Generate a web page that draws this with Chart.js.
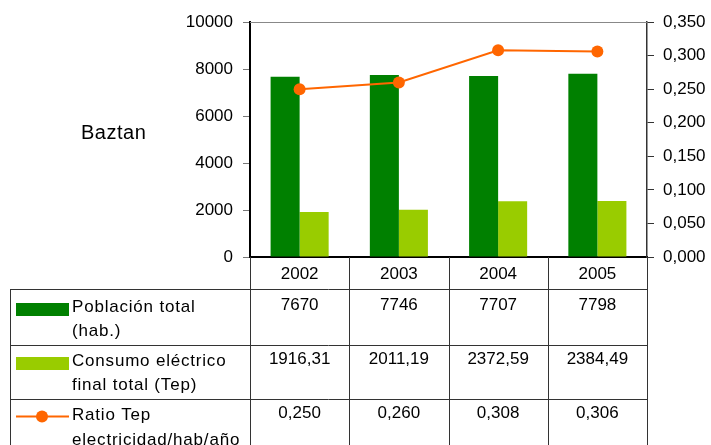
<!DOCTYPE html>
<html>
  <head>
    <meta charset="utf-8">
    <title>Baztan</title>
    <script src="https://cdn.jsdelivr.net/npm/chart.js@4"></script>
    <style>
      body { margin: 0; background: #fff; }
    </style>
    <script>
    // datos
    const years = ['2002', '2003', '2004', '2005'];
    const poblacion = [7670, 7746, 7707, 7798];
    const consumo = [1916.31, 2011.19, 2372.59, 2384.49];
    const ratio = [0.250, 0.260, 0.308, 0.306];
    const leftTicks = [0, 2000, 4000, 6000, 8000, 10000];
    const rightTicks = [0, 0.05, 0.1, 0.15, 0.2, 0.25, 0.3, 0.35];
    const rowLabels = [
      ['Población total', '(hab.)'],
      ['Consumo eléctrico', 'final total (Tep)'],
      ['Ratio Tep', 'electricidad/hab/año']
    ];
    const title = 'Baztan';

    const DARK = '#008000';
    const LIGHT = '#99CC00';
    const ORANGE = '#FF6600';
    const FONT = "'Liberation Sans', Arial, sans-serif";

    function comma(v, d) {
      return v.toFixed(d).replace('.', ',');
    }

    // tabla de datos debajo del grafico
    const tablePlugin = {
      id: 'tabla',
      afterDraw(chart) {
        const ctx = chart.ctx;
        const xs = chart.scales.x;
        const a = chart.chartArea;
        const colW = (a.right - a.left) / years.length;
        const rows = [289, 345, 399];

        ctx.save();
        // borde superior gris
        ctx.strokeStyle = '#888';
        ctx.lineWidth = 1;
        ctx.beginPath();
        ctx.moveTo(a.left, a.top + 0.5);
        ctx.lineTo(a.right, a.top + 0.5);
        ctx.stroke();

        ctx.strokeStyle = '#333';
        ctx.beginPath();
        for (let i = 0; i <= years.length; i++) {
          const xb = Math.round(a.left + i * colW) + 0.5;
          ctx.moveTo(xb, a.bottom);
          ctx.lineTo(xb, 445);
        }
        ctx.moveTo(10.5, rows[0]);
        ctx.lineTo(10.5, 445);
        rows.forEach(y => {
          ctx.moveTo(10, y + 0.5);
          ctx.lineTo(a.right, y + 0.5);
        });
        ctx.stroke();

        // valores
        ctx.fillStyle = '#000';
        ctx.font = '17px ' + FONT;
        ctx.textAlign = 'center';
        ctx.textBaseline = 'middle';
        years.forEach((y, i) => {
          const cx = xs.getPixelForValue(i);
          ctx.fillText(String(poblacion[i]), cx, 305);
          ctx.fillText(comma(consumo[i], 2), cx, 359);
          ctx.fillText(comma(ratio[i], 3), cx, 413);
        });

        // leyenda
        ctx.fillStyle = DARK;
        ctx.fillRect(16, 303, 53, 13);
        ctx.fillStyle = LIGHT;
        ctx.fillRect(16, 357, 53, 13);
        ctx.strokeStyle = ORANGE;
        ctx.lineWidth = 2;
        ctx.beginPath();
        ctx.moveTo(16, 416.5);
        ctx.lineTo(69, 416.5);
        ctx.stroke();
        ctx.fillStyle = ORANGE;
        ctx.beginPath();
        ctx.arc(42, 416.5, 6, 0, Math.PI * 2);
        ctx.fill();

        ctx.fillStyle = '#000';
        ctx.textAlign = 'left';
        ctx.letterSpacing = '0.8px';
        const lineY = [[307, 331], [361, 385], [415, 440]];
        rowLabels.forEach((lines, r) => {
          lines.forEach((t, k) => ctx.fillText(t, 72, lineY[r][k]));
        });

        ctx.letterSpacing = '0.5px';
        ctx.font = '20px ' + FONT;
        ctx.fillText(title, 81, 133);
        ctx.restore();
      }
    };

    function start() {
      Chart.defaults.font.family = FONT;
      Chart.defaults.font.size = 17;
      Chart.defaults.color = '#000';

      const ctx = document.getElementById('chart').getContext('2d');
      new Chart(ctx, {
        type: 'bar',
        data: {
          labels: years,
          datasets: [
            {
              type: 'line',
              label: rowLabels[2].join(' '),
              data: ratio,
              yAxisID: 'y2',
              borderColor: ORANGE,
              backgroundColor: ORANGE,
              borderWidth: 2,
              pointRadius: 6,
              pointBorderWidth: 0,
              tension: 0,
              order: 0
            },
            {
              label: rowLabels[0].join(' '),
              data: poblacion,
              backgroundColor: DARK,
              yAxisID: 'y',
              barPercentage: 1,
              categoryPercentage: 0.585,
              order: 1
            },
            {
              label: rowLabels[1].join(' '),
              data: consumo,
              backgroundColor: LIGHT,
              yAxisID: 'y',
              barPercentage: 1,
              categoryPercentage: 0.585,
              order: 1
            }
          ]
        },
        options: {
          responsive: false,
          animation: false,
          devicePixelRatio: 1,
          layout: { padding: { left: 0, right: 0, top: 22, bottom: 156 } },
          plugins: { legend: { display: false }, tooltip: { enabled: false } },
          scales: {
            x: {
              grid: { drawOnChartArea: false, drawTicks: false },
              border: { color: '#000', width: 2 },
              ticks: { padding: 7, font: { size: 17 } },
              afterFit: s => { s.height = 32; }
            },
            y: {
              position: 'left',
              min: 0,
              max: 10000,
              afterBuildTicks: s => { s.ticks = leftTicks.map(v => ({ value: v })); },
              ticks: { padding: 10, font: { size: 17 }, callback: v => String(v) },
              grid: { drawOnChartArea: false, tickLength: 7, color: '#777' },
              border: { color: '#000', width: 2 },
              afterFit: s => { s.width = 250; }
            },
            y2: {
              position: 'right',
              min: 0,
              max: 0.35,
              afterBuildTicks: s => { s.ticks = rightTicks.map(v => ({ value: v })); },
              ticks: { padding: 9, font: { size: 17 }, callback: v => comma(v, 3) },
              grid: { drawOnChartArea: false, tickLength: 7, color: '#333' },
              border: { color: '#333', width: 1.5 },
              afterFit: s => { s.width = 64; }
            }
          }
        },
        plugins: [tablePlugin]
      });
    }
    </script>
  </head>
  <body onload="start()">
    <canvas id="chart" width="711" height="445"></canvas>
  </body>
</html>
